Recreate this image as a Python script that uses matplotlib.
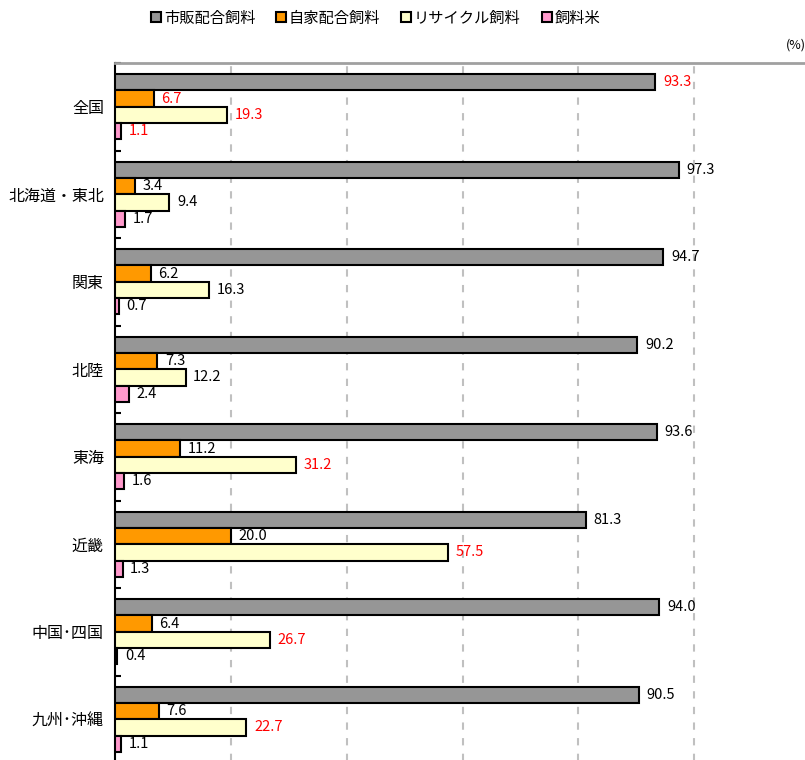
import matplotlib.pyplot as plt
from matplotlib.lines import Line2D
import numpy as np

plt.rcParams['font.family'] = ['Noto Sans CJK JP', 'DejaVu Sans']

regions = ["全国", "北海道・東北", "関東", "北陸", "東海", "近畿", "中国･四国", "九州･沖縄"]
series = ["市販配合飼料", "自家配合飼料", "リサイクル飼料", "飼料米"]
commercial = [93.3, 97.3, 94.7, 90.2, 93.6, 81.3, 94.0, 90.5]
homemade = [6.7, 3.4, 6.2, 7.3, 11.2, 20.0, 6.4, 7.6]
recycled = [19.3, 9.4, 16.3, 12.2, 31.2, 57.5, 26.7, 22.7]
rice = [1.1, 1.7, 0.7, 2.4, 1.6, 1.3, 0.4, 1.1]
# which labels are red (1) in the original
red = [[1, 0, 0, 0, 0, 0, 0, 0],
       [1, 0, 0, 0, 0, 0, 0, 0],
       [1, 0, 0, 0, 1, 1, 1, 1],
       [1, 0, 0, 0, 0, 0, 0, 0]]
colors = ["#969696", "#FF9900", "#FFFFCC", "#FF99CC"]

fig = plt.figure(figsize=(8.05, 7.6), dpi=100)
ax = fig.add_axes([115 / 805, -3 / 760, 695 / 805, 700 / 760])

n = len(regions)
bh = 0.186
pad = 0.128
for j, vals in enumerate([commercial, homemade, recycled, rice]):
    y = np.arange(n) + pad + bh / 2 + j * bh
    ax.barh(y, vals, height=bh, color=colors[j], edgecolor="black", linewidth=1.5, zorder=3)
    for k, v in enumerate(vals):
        ax.text(v + 1.3, y[k], f"{v:.1f}", va="center", ha="left", fontsize=10.5,
                color="#FF0000" if red[j][k] else "black", zorder=4)

ax.set_xlim(0, 120)
ax.set_ylim(n, 0)
ax.set_xticks([20, 40, 60, 80, 100])
ax.tick_params(axis="x", length=0, labelbottom=False)
ax.grid(axis="x", color="#C0C0C0", linestyle=(0, (3.5, 4)), linewidth=1.5, zorder=1)

ax.set_yticks(np.arange(n) + 0.5)
ax.set_yticklabels(regions, fontsize=11.5)
ax.tick_params(axis="y", which="major", length=0, pad=8)
ax.set_yticks(np.arange(n + 1), minor=True)
ax.tick_params(axis="y", which="minor", direction="in", length=4, width=1.5)

ax.spines["right"].set_visible(False)
ax.spines["bottom"].set_visible(False)
ax.spines["left"].set_linewidth(1.5)
ax.spines["top"].set_color("#A0A0A0")
ax.spines["top"].set_linewidth(2)

handles = [Line2D([], [], marker="s", linestyle="", markersize=7, markerfacecolor=c,
                  markeredgecolor="black", markeredgewidth=1.5) for c in colors]
fig.legend(handles, series, loc="center", bbox_to_anchor=(0.466, 0.976), ncol=4,
           frameon=False, fontsize=11, handletextpad=0.1, columnspacing=1.3,
           handlelength=0.8)

fig.text(0.976, 1 - 45 / 760, "(%)", ha="left", va="center", fontsize=9)

fig.savefig("out.png", dpi=100)
